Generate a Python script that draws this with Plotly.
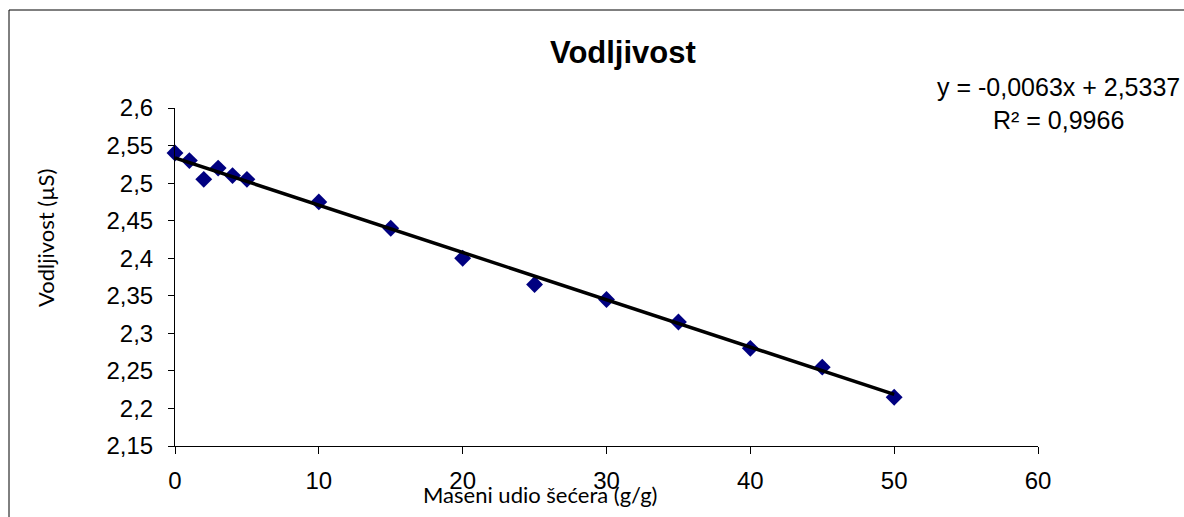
import plotly.graph_objects as go

# Data
mass_fraction = [0, 1, 2, 3, 4, 5, 10, 15, 20, 25, 30, 35, 40, 45, 50]
conductivity = [2.54, 2.53, 2.505, 2.52, 2.51, 2.505, 2.475, 2.44, 2.40,
                2.365, 2.345, 2.315, 2.28, 2.255, 2.215]
trend_slope = -0.0063
trend_intercept = 2.5337
trend_x = [0, 50]
x_tick_vals = [0, 10, 20, 30, 40, 50, 60]
y_tick_vals = [2.15, 2.2, 2.25, 2.3, 2.35, 2.4, 2.45, 2.5, 2.55, 2.6]
y_tick_text = [f"{v:g}".replace(".", ",") for v in y_tick_vals]
title_text = "Vodljivost"
x_title = "Maseni udio šećera (g/g)"
y_title = "Vodljivost (µS)"
eq_text = "y = -0,0063x + 2,5337<br>R² = 0,9966"

W, H = 1184, 517
L, R, T, B = 175, 1184 - 1038, 108, 517 - 446
pw, ph = W - L - R, H - T - B

def px_x(x):
    return (x - L) / pw

def px_y(y):
    return (H - B - y) / ph

fig = go.Figure()
fig.add_trace(go.Scatter(
    x=mass_fraction, y=conductivity, mode="markers",
    marker=dict(symbol="diamond", size=13, color="#000080"),
    showlegend=False, cliponaxis=False))
fig.add_trace(go.Scatter(
    x=trend_x, y=[trend_intercept + trend_slope * x for x in trend_x],
    mode="lines", line=dict(color="black", width=3.5),
    showlegend=False))

fig.update_layout(
    width=W, height=H,
    margin=dict(l=L, r=R, t=T, b=B),
    paper_bgcolor="white", plot_bgcolor="white",
    font=dict(family="Liberation Sans, Arial", color="black", size=22),
    xaxis=dict(range=[0, 60], tickvals=x_tick_vals, ticks="outside", ticklen=7,
               tickcolor="black", showline=True, linecolor="black", linewidth=1,
               showgrid=False, zeroline=False, tickfont=dict(size=24),
               ticklabelstandoff=6),
    yaxis=dict(range=[2.15, 2.6], tickvals=y_tick_vals, ticktext=y_tick_text,
               ticks="outside", ticklen=6, tickcolor="black", showline=True,
               linecolor="black", linewidth=1, showgrid=False, zeroline=False,
               tickfont=dict(size=24), ticklabelstandoff=10),
    shapes=[dict(type="rect", xref="paper", yref="paper",
                 x0=px_x(9), x1=px_x(1200), y0=px_y(530), y1=px_y(10),
                 line=dict(color="black", width=1), fillcolor="rgba(0,0,0,0)",
                 layer="below")],
    annotations=[
        dict(text="<b>" + title_text + "</b>", xref="paper", yref="paper",
             x=px_x(623), y=px_y(52), xanchor="center", yanchor="middle",
             showarrow=False, font=dict(size=31)),
        dict(text=eq_text, xref="paper", yref="paper",
             x=px_x(1058), y=px_y(103), xanchor="center", yanchor="middle",
             showarrow=False, align="center", font=dict(size=25)),
        dict(text=x_title, xref="paper", yref="paper",
             x=px_x(540), y=px_y(494), xanchor="center", yanchor="middle",
             showarrow=False, font=dict(family="Lato, Open Sans", size=22)),
        dict(text=y_title, xref="paper", yref="paper",
             x=px_x(45), y=px_y(238), xanchor="center", yanchor="middle",
             textangle=-90, showarrow=False,
             font=dict(family="Lato, Open Sans", size=22)),
    ],
)

fig.write_html("out.html")
